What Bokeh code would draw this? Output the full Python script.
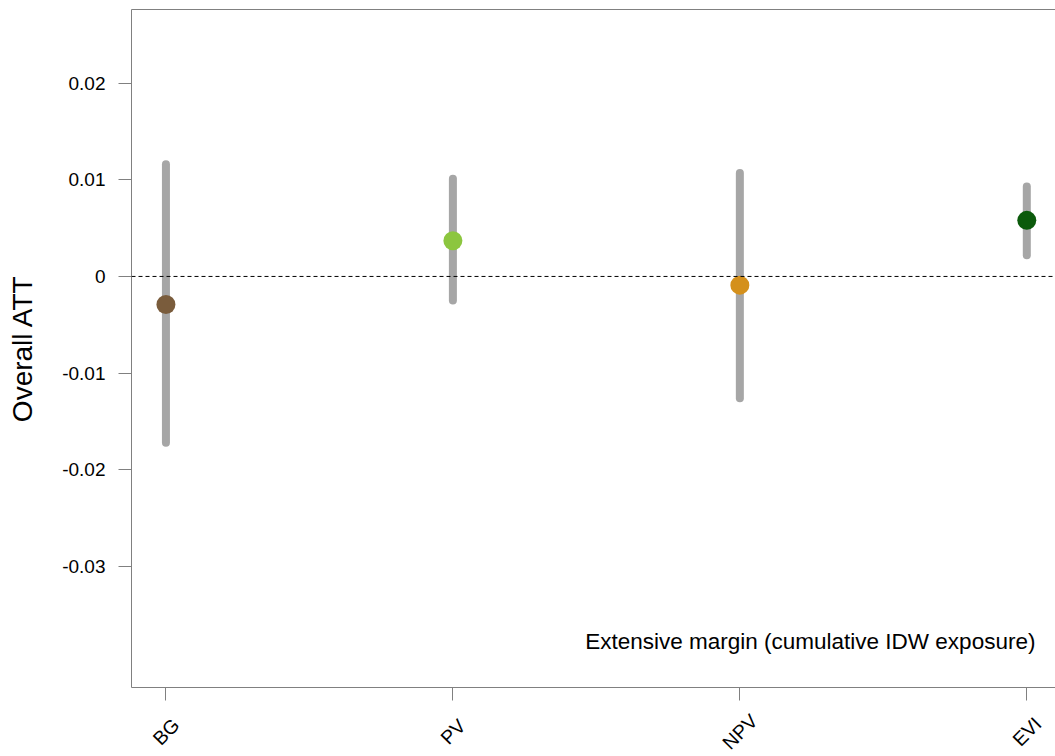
import math
from bokeh.plotting import figure
from bokeh.layouts import column
from bokeh.models import LinearAxis, FixedTicker, Span, Label, Range1d, ColumnDataSource
from bokeh.core.properties import value
from bokeh.embed import file_html
from bokeh.resources import INLINE

categories = ["BG", "PV", "NPV", "EVI"]
att = [-0.0029, 0.0037, -0.0009, 0.0058]
ci_low = [-0.0172, -0.0025, -0.0126, 0.0022]
ci_high = [0.0116, 0.0101, 0.0107, 0.0093]
colors = ["#7a5c3c", "#8cc63f", "#d4901c", "#0b5a0b"]
y_ticks = [-0.03, -0.02, -0.01, 0, 0.01, 0.02]
y_tick_labels = ["-0.03", "-0.02", "-0.01", "0", "0.01", "0.02"]
note = "Extensive margin (cumulative IDW exposure)"

xpos = list(range(1, len(categories) + 1))
src = ColumnDataSource(dict(x=xpos, att=att, lo=ci_low, hi=ci_high, color=colors))

y_lo, y_hi = -0.0425, 0.0276
x_range = Range1d(0.88, 4.1)
TOP, FRAME_H, AX_H, LEFT, FRAME_W = 9, 678, 14, 131, 924
LAB_H = 756 - TOP - FRAME_H - AX_H

p = figure(output_backend="svg", toolbar_location=None,
           x_range=x_range, y_range=Range1d(y_lo, y_hi),
           x_axis_location=None, y_axis_location=None,
           min_border_left=LEFT, min_border_top=TOP, min_border_right=0,
           min_border_bottom=AX_H, frame_width=FRAME_W, frame_height=FRAME_H)
p.outline_line_color = None
p.grid.visible = False
p.background_fill_color = "white"
p.border_fill_color = "white"

axis_col = "#808080"
font = "Liberation Sans"

# left axis
yax = LinearAxis(ticker=FixedTicker(ticks=y_ticks))
yax.major_label_overrides = {t: l for t, l in zip(y_ticks, y_tick_labels)}
yax.axis_label = "Overall ATT"
yax.axis_label_text_font = font
yax.axis_label_text_font_size = "28px"
yax.axis_label_text_font_style = "normal"
yax.axis_label_text_color = "black"
yax.axis_label_standoff = 21
yax.major_label_text_font = font
yax.major_label_text_font_size = "19px"
yax.major_label_text_color = "black"
yax.major_label_standoff = 13
yax.major_tick_out = 13
yax.major_tick_in = 0
yax.minor_tick_out = 0
yax.minor_tick_in = 0
yax.axis_line_color = axis_col
yax.major_tick_line_color = axis_col
p.add_layout(yax, "left")

# bottom axis (ticks only; the rotated category labels are drawn in the strip below)
xax = LinearAxis(ticker=FixedTicker(ticks=xpos))
xax.major_label_overrides = {x: "" for x in xpos}
xax.major_label_standoff = 0
xax.major_label_text_font_size = "1px"
xax.major_tick_out = 13
xax.major_tick_in = 0
xax.minor_tick_out = 0
xax.minor_tick_in = 0
xax.axis_line_color = axis_col
xax.major_tick_line_color = axis_col
p.add_layout(xax, "below")

# top border as an axis line only
tax = LinearAxis(ticker=FixedTicker(ticks=[]))
tax.major_tick_out = 0
tax.major_tick_in = 0
tax.minor_tick_out = 0
tax.minor_tick_in = 0
tax.major_label_standoff = 0
tax.axis_line_color = axis_col
p.add_layout(tax, "above")

p.add_layout(Span(location=0, dimension="width", line_color="black",
                  line_dash="4 3", line_width=1))

p.segment(x0="x", y0="lo", x1="x", y1="hi", source=src, line_color="#a6a6a6",
          line_width=8, line_cap="round")
p.scatter(x="x", y="att", source=src, size=19, fill_color="color",
          line_color="color", line_width=0)

p.add_layout(Label(x=4.03, y=-0.0377, text=note, text_align="right",
                   text_baseline="middle", text_font=font,
                   text_font_size="22.5px", text_color="black"))

# strip holding the rotated category labels, sharing the x range
p2 = figure(output_backend="svg", toolbar_location=None,
            x_range=x_range, y_range=Range1d(0, LAB_H),
            x_axis_location=None, y_axis_location=None,
            min_border_left=LEFT, min_border_top=0, min_border_right=0,
            min_border_bottom=0, frame_width=FRAME_W, frame_height=LAB_H)
p2.outline_line_color = None
p2.grid.visible = False
p2.border_fill_color = "white"
lab_src = ColumnDataSource(dict(x=xpos, y=[LAB_H - 30] * len(xpos), text=categories))
p2.text(x="x", y="y", text="text", source=lab_src, angle=math.pi / 4,
        text_align="center", text_baseline="middle", text_font=value(font),
        text_font_size="19.5px", text_color="black")

layout = column(p, p2, spacing=0)
open("out.html", "w").write(file_html(layout, INLINE))
